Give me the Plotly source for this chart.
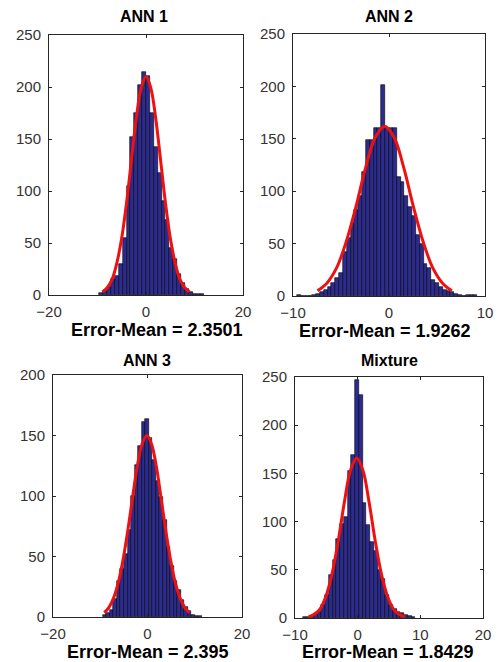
import plotly.graph_objects as go

W, H = 498, 662

# ---------------- data ----------------
titles = ["ANN 1", "ANN 2", "ANN 3", "Mixture"]
xlabels = ["Error-Mean = 2.3501", "Error-Mean = 1.9262", "Error-Mean = 2.395", "Error-Mean = 1.8429"]

# ANN 1 histogram
ann1_centers = [-9.2, -8.4, -7.6, -6.8, -6.0, -5.2, -4.4, -3.6, -2.8, -2.0, -1.2, -0.4, 0.4,
                1.2, 2.0, 2.8, 3.6, 4.4, 5.2, 6.0, 6.8, 7.6, 8.4, 9.2, 10.0, 10.8, 11.6]
ann1_counts = [2, 4, 8, 15, 18, 30, 55, 105, 152, 175, 202, 214, 211,
               175, 142, 117, 90, 72, 45, 35, 20, 12, 6, 3, 1, 1, 1]
ann1_width = 0.8
ann1_curve_x = [-9, -8, -7, -6, -5, -4, -3, -2, -1, 0, 1, 2, 3, 4, 5, 6, 7, 8, 9]
ann1_curve_y = [3, 7, 15, 31, 55, 89, 130, 170, 199, 210, 199, 170, 130, 89, 55, 31, 15, 7, 3]

# ANN 2 histogram
ann2_centers = [-9.4, -9.0, -8.6, -8.2, -7.8, -7.4, -7.0, -6.6, -6.2, -5.8, -5.4, -5.0, -4.6,
                -4.2, -3.8, -3.4, -3.0, -2.6, -2.2, -1.8, -1.4, -1.0, -0.6, -0.2, 0.2, 0.6,
                1.0, 1.4, 1.8, 2.2, 2.6, 3.0, 3.4, 3.8, 4.2, 4.6, 5.0, 5.4, 5.8, 6.2, 6.6,
                7.0, 7.4, 7.8, 8.2, 8.6, 9.0]
ann2_counts = [1, 0, 0, 0, 1, 2, 4, 6, 9, 12, 17, 22, 42,
               55, 70, 82, 95, 118, 149, 149, 160, 160, 201, 160, 160, 160,
               114, 109, 95, 85, 76, 58, 50, 31, 27, 15, 12, 9, 6, 5, 4,
               2, 1, 0, 1, 1, 1]
ann2_width = 0.4
ann2_curve_x = [-7.45, -6.45, -5.45, -4.45, -3.45, -2.45, -1.45, -0.45, 0.55, 1.55, 2.55,
                3.55, 4.55, 5.55, 6.55]
ann2_curve_y = [5, 12.5, 27, 52, 85, 122, 151, 162, 151, 122, 85, 52, 27, 12.5, 5]

# ANN 3 histogram
ann3_centers = [-9.1, -8.35, -7.6, -6.85, -6.1, -5.35, -4.6, -3.85, -3.1, -2.35, -1.6, -0.85,
                -0.1, 0.65, 1.4, 2.15, 2.9, 3.65, 4.4, 5.15, 5.9, 6.65, 7.4, 8.15, 8.9, 9.65,
                10.4, 11.15]
ann3_counts = [2, 3, 6, 15, 30, 40, 52, 72, 100, 126, 141, 161,
               164, 148, 130, 112, 99, 80, 58, 42, 30, 22, 14, 8, 5, 2,
               1, 1]
ann3_width = 0.75
ann3_curve_x = [-9.15, -8.15, -7.15, -6.15, -5.15, -4.15, -3.15, -2.15, -1.15, -0.15, 0.85,
                1.85, 2.85, 3.85, 4.85, 5.85, 6.85, 7.85, 8.85]
ann3_curve_y = [3.6, 8, 16, 29, 48, 72, 99, 125, 143, 150, 143, 125, 99, 72, 48, 29, 16, 8, 3.6]

# Mixture histogram
mix_centers = [-8.5, -7.9, -7.3, -6.7, -6.1, -5.5, -4.9, -4.3, -3.7, -3.1, -2.5, -1.9, -1.3,
               -0.7, -0.1, 0.5, 1.1, 1.7, 2.3, 2.9, 3.5, 4.1, 4.7, 5.3, 5.9, 6.5, 7.1, 7.7,
               8.3, 8.9]
mix_counts = [1, 1, 2, 4, 6, 13, 24, 45, 60, 82, 97, 105, 153,
              169, 247, 231, 119, 96, 79, 69, 50, 40, 24, 13, 9, 6, 5, 3,
              2, 1]
mix_width = 0.6
mix_curve_x = [-7.85, -7.15, -6.15, -5.15, -4.15, -3.15, -2.15, -1.15, -0.15, 0.85, 1.85,
               2.85, 3.85, 4.85, 5.85, 6.85, 7.55]
mix_curve_y = [1.2, 3, 8, 21, 44, 78, 119, 153, 166, 153, 119, 78, 44, 21, 8, 3, 1.2]

x_ranges = [[-20, 20], [-10, 10], [-20, 20], [-10, 20]]
x_ticks = [[-20, 0, 20], [-10, 0, 10], [-20, 0, 20], [-10, 0, 10, 20]]
y_ranges = [[0, 250], [0, 250], [0, 200], [0, 250]]
y_ticks = [[0, 50, 100, 150, 200, 250], [0, 50, 100, 150, 200, 250],
           [0, 50, 100, 150, 200], [0, 50, 100, 150, 200, 250]]

# ---------------- layout (pixel boxes) ----------------
boxes = [  # left, right, top, bottom in px
    (49, 243, 35, 295),
    (293, 485, 34, 296),
    (53, 242, 375, 617),
    (295, 483, 377, 618),
]
title_x_px = [144, 389, 147, 389]
title_y_px = [16, 16, 360, 360]
label_x_px = [157, 385, 148, 388]
label_y_px = [330, 331, 652, 652]

hists = [
    (ann1_centers, ann1_counts, ann1_width, ann1_curve_x, ann1_curve_y),
    (ann2_centers, ann2_counts, ann2_width, ann2_curve_x, ann2_curve_y),
    (ann3_centers, ann3_counts, ann3_width, ann3_curve_x, ann3_curve_y),
    (mix_centers, mix_counts, mix_width, mix_curve_x, mix_curve_y),
]

fig = go.Figure()
axis_color = "#262626"
tick_color = "#333333"
font_family = "Liberation Sans, Arial, sans-serif"

layout = dict(
    width=W, height=H,
    margin=dict(l=0, r=0, t=0, b=0, autoexpand=False),
    paper_bgcolor="white", plot_bgcolor="white",
    showlegend=False,
    bargap=0,
    font=dict(family=font_family, size=15, color=axis_color),
)
annotations = []

for i, (centers, counts, bw, cx, cy) in enumerate(hists):
    n = i + 1
    xa = "x" if n == 1 else f"x{n}"
    ya = "y" if n == 1 else f"y{n}"
    fig.add_trace(go.Bar(
        x=centers, y=counts, width=bw,
        marker=dict(color="#2c2c90", line=dict(color="black", width=0.6)),
        xaxis=xa, yaxis=ya, hoverinfo="skip",
    ))
    fig.add_trace(go.Scatter(
        x=cx, y=cy, mode="lines", line=dict(color="#ee1111", width=3, shape="spline"),
        xaxis=xa, yaxis=ya, hoverinfo="skip",
    ))
    l, r, t, b = boxes[i]
    xkey = "xaxis" if n == 1 else f"xaxis{n}"
    ykey = "yaxis" if n == 1 else f"yaxis{n}"
    layout[xkey] = dict(
        domain=[l / W, r / W], anchor=ya, range=x_ranges[i], automargin=False,
        tickvals=x_ticks[i], ticks="inside", ticklen=3, tickcolor=axis_color,
        showline=True, linecolor=axis_color, linewidth=1, mirror="ticks",
        showgrid=False, zeroline=False, tickfont=dict(size=15, color=tick_color),
        ticklabelstandoff=3,
    )
    layout[ykey] = dict(
        domain=[(H - b) / H, (H - t) / H], anchor=xa, range=y_ranges[i], automargin=False,
        tickvals=y_ticks[i], ticks="inside", ticklen=3, tickcolor=axis_color,
        showline=True, linecolor=axis_color, linewidth=1, mirror="ticks",
        showgrid=False, zeroline=False, tickfont=dict(size=15, color=tick_color),
        ticklabelstandoff=4,
    )
    annotations.append(dict(
        text=f"<b>{titles[i]}</b>", x=title_x_px[i] / W, y=(H - title_y_px[i]) / H,
        xref="paper", yref="paper", showarrow=False, xanchor="center", yanchor="middle",
        font=dict(size=16, color="black", family=font_family),
    ))
    annotations.append(dict(
        text=f"<b>{xlabels[i]}</b>", x=label_x_px[i] / W, y=(H - label_y_px[i]) / H,
        xref="paper", yref="paper", showarrow=False, xanchor="center", yanchor="middle",
        font=dict(size=18, color="black", family=font_family),
    ))

layout["annotations"] = annotations
fig.update_layout(**layout)
fig.write_html(
    "out.html",
    config={"responsive": False, "displayModeBar": False},
    post_script="document.body.style.margin='0';document.body.style.overflow='hidden';",
)
